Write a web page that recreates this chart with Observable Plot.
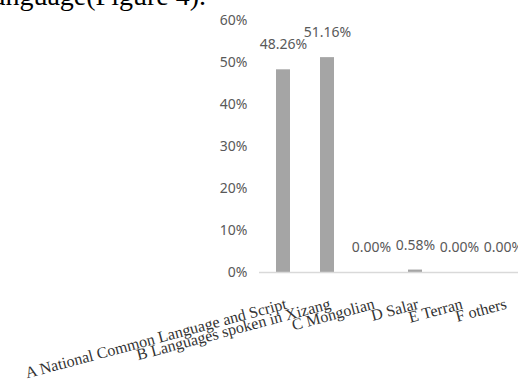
<!DOCTYPE html>
<html>
<head>
<meta charset="utf-8">
<script src="https://cdn.jsdelivr.net/npm/d3@7"></script>
<script src="https://cdn.jsdelivr.net/npm/@observablehq/plot@0.6"></script>
<style>
  html, body { margin: 0; padding: 0; background: #fff; }
  body { width: 518px; height: 385px; overflow: hidden; position: relative; }
  #head { position: absolute; right: 312px; top: -18px; font-family: "Liberation Serif", "DejaVu Serif", serif; font-size: 28px; line-height: 28px; color: #000; white-space: nowrap; }
  #chart { position: absolute; left: 0; top: 0; }
  #chart svg { max-width: none !important; }
</style>
</head>
<body>
<div id="head">Language(Figure 4).</div>
<div id="chart"></div>
<script>
const categories = [
  "A National Common Language and Script",
  "B Languages spoken in Xizang",
  "C Mongolian",
  "D Salar",
  "E Terran",
  "F others"
];
const shares = [0.4826, 0.5116, 0.0, 0.0058, 0.0, 0.0];
const yTicks = [0, 0.1, 0.2, 0.3, 0.4, 0.5, 0.6];

const data = categories.map((c, i) => ({category: c, value: shares[i]}));

const chart = Plot.plot({
  width: 530,
  height: 385,
  marginLeft: 259,
  marginRight: 4,
  marginTop: 20,
  marginBottom: 113,
  style: {background: "transparent", overflow: "visible", maxWidth: "none"},
  x: {domain: categories, paddingInner: 0.69, paddingOuter: 0.345, axis: null},
  y: {domain: [0, 0.6], ticks: yTicks, tickFormat: d3.format(".0%")},
  marks: [
    Plot.axisY({ticks: yTicks, tickFormat: d3.format(".0%"), tickSize: 0, tickPadding: 12,
      fontSize: 14, fontFamily: "Noto Sans, sans-serif", fill: "#595959", label: null}),
    Plot.barY(data, {x: "category", y: "value", fill: "#a5a5a5"}),
    Plot.ruleY([0], {stroke: "#d9d9d9", strokeWidth: 1.5}),
    Plot.text(data, {x: "category", y: "value", text: d => d3.format(".2%")(d.value),
      dy: -25, fontSize: 14, fontFamily: "Noto Sans, sans-serif", fill: "#595959"}),
    Plot.text(data, {x: "category", y: () => 0, text: "category", rotate: -15,
      textAnchor: "end", lineAnchor: "bottom", dx: 4, dy: 36, fontSize: 16,
      fontFamily: "Liberation Serif, serif", fill: "#333", style: "letter-spacing:0.8px"})
  ]
});
document.getElementById("chart").appendChild(chart);
</script>
</body>
</html>
